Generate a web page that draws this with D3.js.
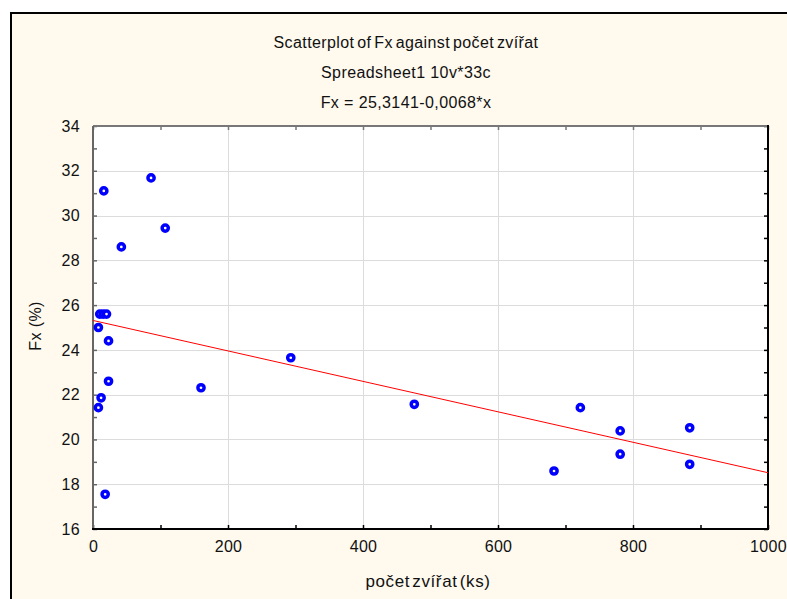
<!DOCTYPE html>
<head>
  <meta charset="utf-8" />
  <title>Scatterplot of Fx against počet zvířat</title>
  <script src="https://d3js.org/d3.v7.min.js"></script>
</head>
<style>
  body {
    margin: 0;
    background: #ffffff;
  }
  svg text {
    font-family: "Liberation Sans", Arial, sans-serif;
    fill: #111;
  }
  .tick text {
    font-size: 16px;
    letter-spacing: 0.3px;
  }
</style>
<body>
  <div id="container"></div>
  <script>
    // values
    var pocetZvirat = [16, 86, 107, 42, 10, 15, 20, 8, 23, 23, 12, 8, 18,
      160, 293, 476, 722, 683, 781, 781, 884, 884];
    var fx = [31.1, 31.68, 29.44, 28.6, 25.6, 25.6, 25.6, 25.0, 24.4, 22.6,
      21.86, 21.42, 17.55, 22.31, 23.65, 21.57, 21.42, 18.59, 20.38, 19.34,
      20.52, 18.89];
    var fitIntercept = 25.3141,
      fitSlope = -0.0068;
    var titleLines = [
      "Scatterplot of Fx against počet zvířat",
      "Spreadsheet1 10v*33c",
      "Fx = 25,3141-0,0068*x",
    ];
    var xTicks = [0, 100, 200, 300, 400, 500, 600, 700, 800, 900, 1000];
    var yTicks = [16, 17, 18, 19, 20, 21, 22, 23, 24, 25, 26, 27, 28, 29, 30,
      31, 32, 33, 34];

    var W = 787,
      H = 599;
    var plot = { left: 93, top: 126, right: 768, bottom: 529 };

    var svg = d3
      .select("#container")
      .append("svg")
      .attr("width", W)
      .attr("height", H);

    // cream frame
    svg
      .append("rect")
      .attr("x", 11)
      .attr("y", 13)
      .attr("width", 820)
      .attr("height", 620)
      .style("fill", "#fff9ee")
      .style("stroke", "#000")
      .style("stroke-width", 2);

    var x = d3.scaleLinear().domain([0, 1000]).range([plot.left, plot.right]);
    var y = d3.scaleLinear().domain([16, 34]).range([plot.bottom, plot.top]);

    svg
      .append("rect")
      .attr("x", plot.left)
      .attr("y", plot.top)
      .attr("width", plot.right - plot.left)
      .attr("height", plot.bottom - plot.top)
      .style("fill", "#fff");

    // grid
    var grid = svg.append("g").style("stroke", "#dcdcdc").style("stroke-width", 1);
    grid
      .selectAll(".gx")
      .data(xTicks.filter((d) => d % 200 == 0 && d > 0 && d < 1000))
      .enter()
      .append("line")
      .attr("x1", (d) => Math.round(x(d)) + 0.5)
      .attr("x2", (d) => Math.round(x(d)) + 0.5)
      .attr("y1", plot.top)
      .attr("y2", plot.bottom);
    grid
      .selectAll(".gy")
      .data(yTicks.filter((d) => d % 2 == 0 && d > 16 && d < 34))
      .enter()
      .append("line")
      .attr("y1", (d) => Math.round(y(d)) + 0.5)
      .attr("y2", (d) => Math.round(y(d)) + 0.5)
      .attr("x1", plot.left)
      .attr("x2", plot.right);

    function styleAxis(g, color) {
      g.selectAll("path, line").style("stroke", color).style("stroke-width", 1.5);
      g.selectAll("text").style("fill", "#111");
    }

    var bottomAxis = svg
      .append("g")
      .attr("transform", "translate(0," + plot.bottom + ")")
      .call(
        d3.axisBottom(x)
          .tickValues(xTicks)
          .tickSizeInner(-4)
          .tickSizeOuter(0)
          .tickPadding(12)
          .tickFormat((d) => (d % 200 == 0 ? d : ""))
      );
    bottomAxis.select(".domain").remove();
    styleAxis(bottomAxis, "#000");

    var topAxis = svg
      .append("g")
      .attr("transform", "translate(0," + plot.top + ")")
      .call(d3.axisTop(x).tickValues(xTicks).tickSizeInner(-4).tickSizeOuter(0).tickFormat(""));
    topAxis.select(".domain").remove();
    styleAxis(topAxis, "#777");

    var leftAxis = svg
      .append("g")
      .attr("transform", "translate(" + plot.left + ",0)")
      .call(
        d3.axisLeft(y)
          .tickValues(yTicks)
          .tickSizeInner(-4)
          .tickSizeOuter(0)
          .tickPadding(13)
          .tickFormat((d) => (d % 2 == 0 ? d : ""))
      );
    leftAxis.select(".domain").remove();
    styleAxis(leftAxis, "#666");

    var rightAxis = svg
      .append("g")
      .attr("transform", "translate(" + plot.right + ",0)")
      .call(d3.axisRight(y).tickValues(yTicks).tickSizeInner(-4).tickSizeOuter(0).tickFormat(""));
    rightAxis.select(".domain").remove();
    styleAxis(rightAxis, "#000");

    // frame lines of the plot
    var frame = svg.append("g").style("stroke-width", 2);
    frame.append("line").attr("x1", plot.left).attr("x2", plot.right)
      .attr("y1", plot.top).attr("y2", plot.top).style("stroke", "#777");
    frame.append("line").attr("x1", plot.left).attr("x2", plot.left)
      .attr("y1", plot.top).attr("y2", plot.bottom).style("stroke", "#666");
    frame.append("line").attr("x1", plot.right).attr("x2", plot.right)
      .attr("y1", plot.top - 1).attr("y2", plot.bottom + 1).style("stroke", "#000");
    frame.append("line").attr("x1", plot.left - 1).attr("x2", plot.right + 1)
      .attr("y1", plot.bottom).attr("y2", plot.bottom).style("stroke", "#000");

    // fitted line
    svg
      .append("line")
      .attr("x1", x(0))
      .attr("y1", y(fitIntercept))
      .attr("x2", x(1000))
      .attr("y2", y(fitIntercept + fitSlope * 1000))
      .style("stroke", "#ff0000")
      .style("stroke-width", 1);

    // points
    svg
      .append("g")
      .selectAll("circle")
      .data(pocetZvirat)
      .enter()
      .append("circle")
      .attr("cx", (d) => x(d))
      .attr("cy", (d, i) => y(fx[i]))
      .attr("r", 3.1)
      .style("fill", "#fff")
      .style("stroke", "#0000ff")
      .style("stroke-width", 3.5);

    // titles
    svg
      .selectAll(".title")
      .data(titleLines)
      .enter()
      .append("text")
      .attr("x", 406)
      .attr("y", (d, i) => 48 + i * 30)
      .style("text-anchor", "middle")
      .style("font-size", "16px")
      .style("letter-spacing", "0.4px")
      .style("word-spacing", (d, i) => (i == 0 ? "-2px" : "0px"))
      .text((d) => d);

    svg
      .append("text")
      .attr("x", 428)
      .attr("y", 587)
      .style("text-anchor", "middle")
      .style("font-size", "17px")
      .style("letter-spacing", "0.6px")
      .style("word-spacing", "-3px")
      .text("počet zvířat (ks)");

    svg
      .append("text")
      .attr("transform", "translate(41,326) rotate(-90)")
      .style("text-anchor", "middle")
      .style("font-size", "16px")
      .style("letter-spacing", "0.4px")
      .text("Fx (%)");
  </script>
</body>
